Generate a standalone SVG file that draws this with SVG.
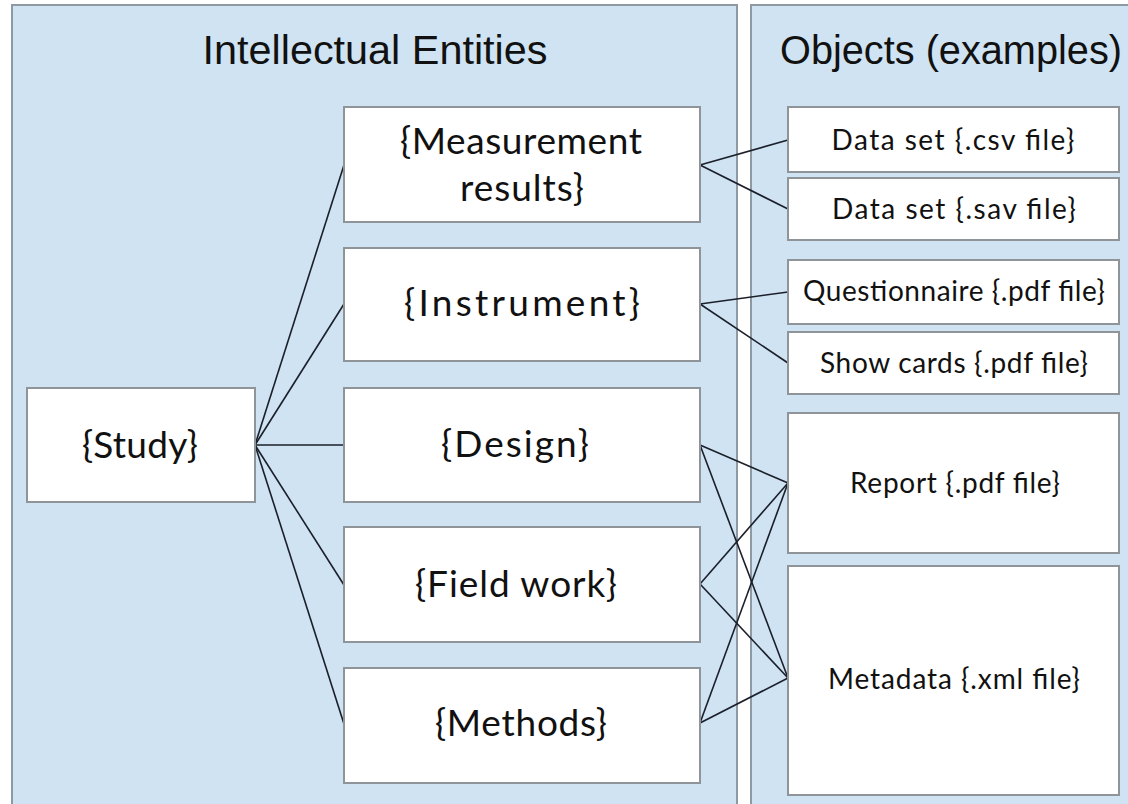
<svg xmlns="http://www.w3.org/2000/svg" width="1128" height="804" viewBox="0 0 1128 804">
<style>
.panel{fill:#cfe3f2;stroke:#8e9aa3;stroke-width:2}
.box{fill:#ffffff;stroke:#8f9498;stroke-width:2}
.title{font-family:"Liberation Sans",Arial,sans-serif;font-size:40px;fill:#111111;text-anchor:middle}
.big{font-family:Lato,"Open Sans",sans-serif;font-size:37px;fill:#111111;text-anchor:middle}
.small{font-family:Lato,"Open Sans",sans-serif;font-size:28px;fill:#111111;text-anchor:middle}
.conn line{stroke:#1b1f2a;stroke-width:1.6}
</style>
<rect width="1128" height="804" fill="#ffffff"/>
<g id="panel-intellectual">
<rect class="panel" x="12" y="5" width="725" height="810"/>
<text class="title" x="375" y="64" textLength="345" lengthAdjust="spacingAndGlyphs">Intellectual Entities</text>
</g>
<g id="panel-objects">
<rect class="panel" x="751" y="5" width="400" height="810"/>
<text class="title" x="951" y="64" textLength="342" lengthAdjust="spacingAndGlyphs">Objects (examples)</text>
</g>
<g class="conn" id="connectors">
<line x1="255" y1="445" x2="344" y2="165"/>
<line x1="255" y1="445" x2="344" y2="304"/>
<line x1="255" y1="445" x2="344" y2="445"/>
<line x1="255" y1="445" x2="344" y2="585"/>
<line x1="255" y1="445" x2="344" y2="724"/>
<line x1="700" y1="165" x2="788" y2="140"/>
<line x1="700" y1="165" x2="788" y2="209"/>
<line x1="700" y1="304" x2="788" y2="292"/>
<line x1="700" y1="304" x2="788" y2="363"/>
<line x1="700" y1="445" x2="788" y2="483"/>
<line x1="700" y1="445" x2="788" y2="678"/>
<line x1="700" y1="584" x2="788" y2="483"/>
<line x1="700" y1="584" x2="788" y2="678"/>
<line x1="700" y1="723" x2="788" y2="483"/>
<line x1="700" y1="723" x2="788" y2="678"/>
</g>
<g id="study"><rect class="box" x="27" y="388" width="228" height="114"/><text class="big" x="140" y="458" textLength="116">{Study}</text></g>
<g id="measurement"><rect class="box" x="344" y="107" width="356" height="115"/><text class="big" x="521" y="154" textLength="242">{Measurement</text><text class="big" x="522" y="201" textLength="124">results}</text></g>
<g id="instrument"><rect class="box" x="344" y="248" width="356" height="113"/><text class="big" x="522" y="316" textLength="236">{Instrument}</text></g>
<g id="design"><rect class="box" x="344" y="388" width="356" height="114"/><text class="big" x="515" y="457" textLength="148">{Design}</text></g>
<g id="fieldwork"><rect class="box" x="344" y="527" width="356" height="115"/><text class="big" x="516" y="597" textLength="202">{Field work}</text></g>
<g id="methods"><rect class="box" x="344" y="668" width="356" height="115"/><text class="big" x="521" y="736" textLength="172">{Methods}</text></g>
<g id="csv"><rect class="box" x="788" y="107" width="331" height="65"/><text class="small" x="953" y="150" textLength="243">Data set {.csv file}</text></g>
<g id="sav"><rect class="box" x="788" y="178" width="331" height="62"/><text class="small" x="954" y="219" textLength="244">Data set {.sav file}</text></g>
<g id="questionnaire"><rect class="box" x="788" y="260" width="331" height="64"/><text class="small" x="954" y="301" textLength="302">Questionnaire {.pdf file}</text></g>
<g id="showcards"><rect class="box" x="788" y="332" width="331" height="62"/><text class="small" x="954" y="373" textLength="268">Show cards {.pdf file}</text></g>
<g id="report"><rect class="box" x="788" y="413" width="331" height="140"/><text class="small" x="955" y="493" textLength="210">Report {.pdf file}</text></g>
<g id="metadata"><rect class="box" x="788" y="566" width="331" height="229"/><text class="small" x="954" y="689" textLength="252">Metadata {.xml file}</text></g>
</svg>
